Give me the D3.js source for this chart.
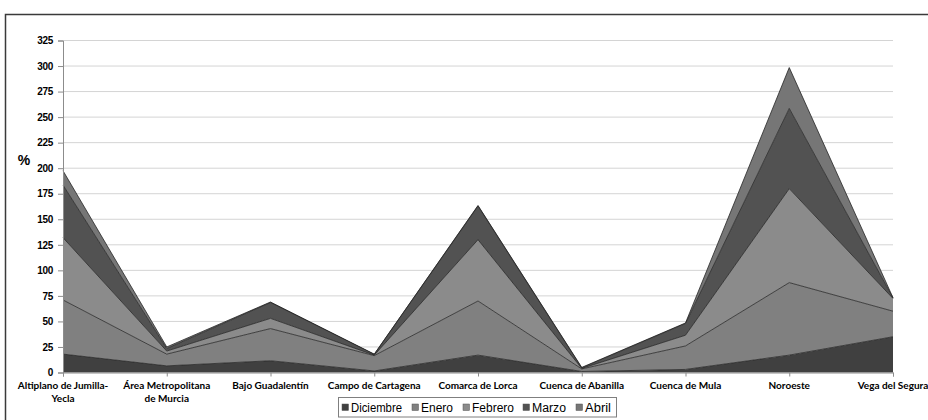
<!DOCTYPE html>
<html>
<head>
<meta charset="utf-8">
<script src="https://cdn.jsdelivr.net/npm/d3@7"></script>
<style>
  html, body { margin: 0; padding: 0; background: #fff; }
  svg { display: block; }
</style>
</head>
<body>
<svg id="chart" width="928" height="420"></svg>
<script>
// Comarcas of the Región de Murcia
const categories = [
  "Altiplano de Jumilla-Yecla", "Área Metropolitana de Murcia", "Bajo Guadalentín",
  "Campo de Cartagena", "Comarca de Lorca", "Cuenca de Abanilla",
  "Cuenca de Mula", "Noroeste", "Vega del Segura"
];
const categoryLines = [
  ["Altiplano de Jumilla-", "Yecla"], ["Área Metropolitana", "de Murcia"], ["Bajo Guadalentín"],
  ["Campo de Cartagena"], ["Comarca de Lorca"], ["Cuenca de Abanilla"],
  ["Cuenca de Mula"], ["Noroeste"], ["Vega del Segura"]
];

// Monthly percentages (stacked)
const months = ["Diciembre", "Enero", "Febrero", "Marzo", "Abril"];
const diciembre = [18, 6.5, 11.5, 1.5, 17, 1, 3, 17, 35];
const enero     = [53, 11.5, 31.5, 15, 53, 2.5, 23, 71, 25];
const febrero   = [61, 3, 10, 0.5, 60, 0.5, 10.5, 92, 12.5];
const marzo     = [51.5, 2.5, 15.5, 0.7, 33, 0.5, 11.5, 78.5, 0.5];
const abril     = [14, 1.5, 0.5, 0.3, 0.5, 0.5, 0.5, 40, 0.2];

const yTicks = d3.range(0, 326, 25);
const colors = ["#404040", "#808080", "#8b8b8b", "#525252", "#767676"];

const seriesValues = [diciembre, enero, febrero, marzo, abril];
const rows = categories.map((c, i) => {
  const r = { cat: c };
  months.forEach((m, k) => { r[m] = seriesValues[k][i]; });
  return r;
});

const svg = d3.select("#chart");

// outer chart frame
svg.append("rect")
  .attr("x", 5.5).attr("y", 14.5)
  .attr("width", 940).attr("height", 420)
  .attr("fill", "#fff").attr("stroke", "#3a3a3a").attr("stroke-width", 1.5);

const x = d3.scalePoint().domain(categories).range([63, 893]);
const y = d3.scaleLinear().domain([0, 325]).range([372.5, 40.5]);

// gridlines
svg.append("g")
  .selectAll("line")
  .data(yTicks.filter(t => t > 0))
  .join("line")
  .attr("x1", 63).attr("x2", 893)
  .attr("y1", d => y(d)).attr("y2", d => y(d))
  .attr("stroke", "#d4d4d4").attr("stroke-width", 1);

// stacked areas
const stack = d3.stack().keys(months);
const layers = stack(rows);
const area = d3.area()
  .x(d => x(d.data.cat))
  .y0(d => y(d[0]))
  .y1(d => y(d[1]));
const topLine = d3.line()
  .x(d => x(d.data.cat))
  .y(d => y(d[1]));

svg.append("g")
  .selectAll("path")
  .data(layers)
  .join("path")
  .attr("d", area)
  .attr("fill", (d, i) => colors[i]);

svg.append("g")
  .selectAll("path")
  .data(layers)
  .join("path")
  .attr("d", topLine)
  .attr("fill", "none")
  .attr("stroke", "#262626")
  .attr("stroke-width", 0.8);

// y axis
const yAxis = svg.append("g")
  .attr("transform", "translate(63,0)")
  .call(d3.axisLeft(y).tickValues(yTicks).tickSize(5).tickPadding(5));
yAxis.select(".domain").attr("stroke", "#8c8c8c");
yAxis.selectAll(".tick line").attr("stroke", "#8c8c8c");
yAxis.selectAll(".tick text")
  .attr("fill", "#000")
  .style("font-family", "'Liberation Sans', Arial, sans-serif")
  .style("font-weight", "bold")
  .style("font-size", "10px")
  .style("letter-spacing", "-0.3px");

// x axis
const xAxis = svg.append("g")
  .attr("transform", "translate(0,372.5)")
  .call(d3.axisBottom(x).tickSize(4).tickFormat(""));
xAxis.select(".domain").attr("stroke", "#8c8c8c");
xAxis.selectAll(".tick line").attr("stroke", "#8c8c8c");

const labels = svg.append("g")
  .selectAll("text")
  .data(categories)
  .join("text")
  .attr("x", d => x(d))
  .attr("y", 389)
  .attr("text-anchor", "middle")
  .style("font-family", "Lato, 'Open Sans', sans-serif")
  .style("font-weight", "bold")
  .style("font-size", "10px")
  .attr("fill", "#000");
labels.selectAll("tspan")
  .data((d, i) => categoryLines[i])
  .join("tspan")
  .attr("x", function () { return d3.select(this.parentNode).attr("x"); })
  .attr("dy", (d, j) => j === 0 ? 0 : 13)
  .text(d => d);

// y axis title
svg.append("text")
  .attr("x", 24).attr("y", 165)
  .attr("text-anchor", "middle")
  .style("font-family", "'Liberation Sans', Arial, sans-serif")
  .style("font-weight", "bold")
  .style("font-size", "14px")
  .text("%");

// legend
const legend = svg.append("g");
legend.append("rect")
  .attr("x", 338.5).attr("y", 397.5)
  .attr("width", 278).attr("height", 19.5)
  .attr("fill", "#fff").attr("stroke", "#7f7f7f").attr("stroke-width", 1);
const legendX = [342, 412, 463, 523, 576];
const legendW = [51, 32, 42, 34, 26];
const items = legend.selectAll("g.item")
  .data(months)
  .join("g")
  .attr("class", "item")
  .attr("transform", (d, i) => `translate(${legendX[i]},0)`);
items.append("rect")
  .attr("x", 0).attr("y", 404)
  .attr("width", 6.5).attr("height", 6.5)
  .attr("fill", (d, i) => colors[i])
  .attr("stroke", "#555").attr("stroke-width", 0.5);
items.append("text")
  .attr("x", 9).attr("y", 411.5)
  .attr("textLength", (d, i) => legendW[i])
  .attr("lengthAdjust", "spacingAndGlyphs")
  .style("font-family", "'Liberation Sans', Arial, sans-serif")
  .style("font-size", "12px")
  .attr("fill", "#000")
  .text(d => d);
</script>
</body>
</html>
